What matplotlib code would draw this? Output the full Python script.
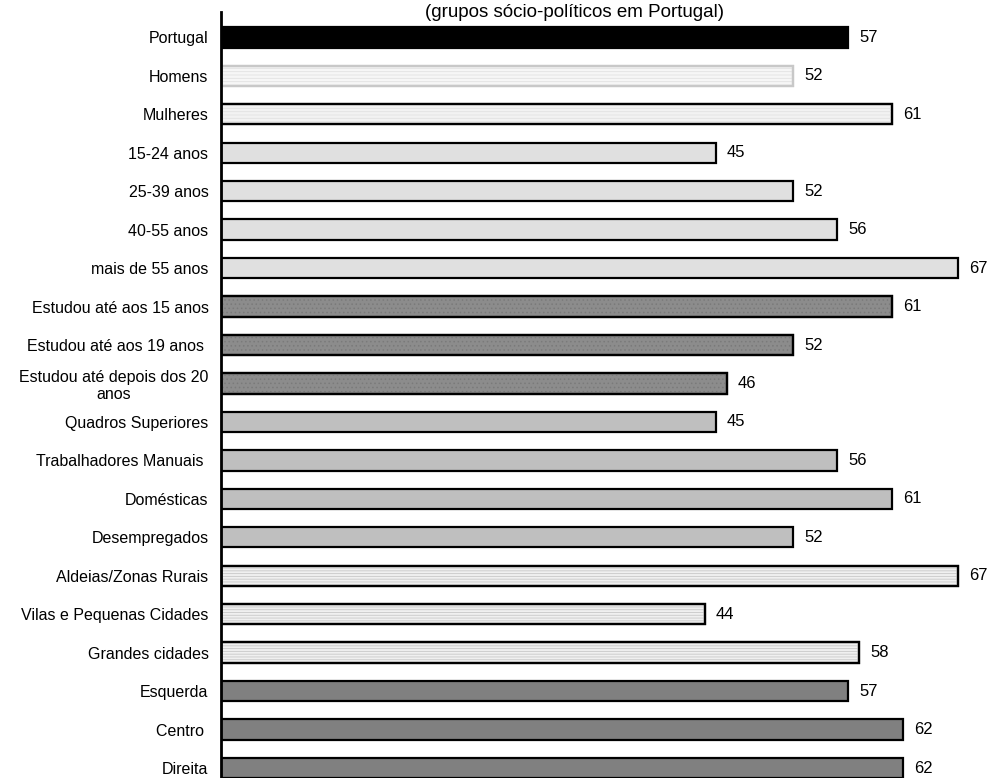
import matplotlib
matplotlib.use("Agg")
import matplotlib.pyplot as plt

plt.rcParams['font.family'] = ['Liberation Sans', 'DejaVu Sans']
plt.rcParams['hatch.linewidth'] = 0.6

categories = ["Portugal", "Homens", "Mulheres", "15-24 anos", "25-39 anos", "40-55 anos",
              "mais de 55 anos", "Estudou até aos 15 anos", "Estudou até aos 19 anos ",
              "Estudou até depois dos 20\nanos", "Quadros Superiores", "Trabalhadores Manuais ",
              "Domésticas", "Desempregados", "Aldeias/Zonas Rurais", "Vilas e Pequenas Cidades",
              "Grandes cidades", "Esquerda", "Centro ", "Direita"]
values = [57, 52, 61, 45, 52, 56, 67, 61, 52, 46, 45, 56, 61, 52, 67, 44, 58, 57, 62, 62]

fills = ["#000000", "#f6f6f6", "#f2f2f2", "#e0e0e0", "#e0e0e0", "#e0e0e0", "#e0e0e0",
         "#8c8c8c", "#8c8c8c", "#8c8c8c", "#bfbfbf", "#bfbfbf", "#bfbfbf", "#bfbfbf",
         "#f0f0f0", "#f0f0f0", "#f0f0f0", "#808080", "#808080", "#808080"]
edges = ["#000000", "#c8c8c8"] + ["#000000"] * 18
hatches = [None, "-----", "-----", None, None, None, None, "....", "....", "....",
           None, None, None, None, "------", "------", "------", None, None, None]
hatch_colors = [None, "#e2e2e2", "#e2e2e2", None, None, None, None, "#7a7a7a", "#7a7a7a", "#7a7a7a",
                None, None, None, None, "#c8c8c8", "#c8c8c8", "#c8c8c8", None, None, None]

fig = plt.figure(figsize=(9.91, 7.78), dpi=100)
ax = fig.add_axes([221 / 991, 0, 1 - 221 / 991, 1 - 12 / 778])

ypos = list(range(len(categories)))
for i, (v, fc, ec, h, hc) in enumerate(zip(values, fills, edges, hatches, hatch_colors)):
    ax.barh(i, v, height=0.53, color=fc, edgecolor=ec, linewidth=1.6)
    if h:
        ax.barh(i, v, height=0.53, color="none", edgecolor=hc, linewidth=0, hatch=h)
        ax.barh(i, v, height=0.53, color="none", edgecolor=ec, linewidth=1.6)
    ax.text(v + 1.0, i, str(v), va="center", ha="left", fontsize=12)

ax.set_yticks(ypos)
ax.set_yticklabels(categories, fontsize=11.5, multialignment="center")
ax.tick_params(axis="y", length=0, pad=9)
ax.set_xticks([])
ax.set_xlim(0, 70)
ax.set_ylim(19.26, -0.66)
for s in ["top", "right", "bottom"]:
    ax.spines[s].set_visible(False)
ax.spines["left"].set_linewidth(2)

fig.text(0.58, 0.984, "(grupos sócio-políticos em Portugal)", ha="center", va="center", fontsize=13.5)

fig.savefig("out.png", dpi=100)
